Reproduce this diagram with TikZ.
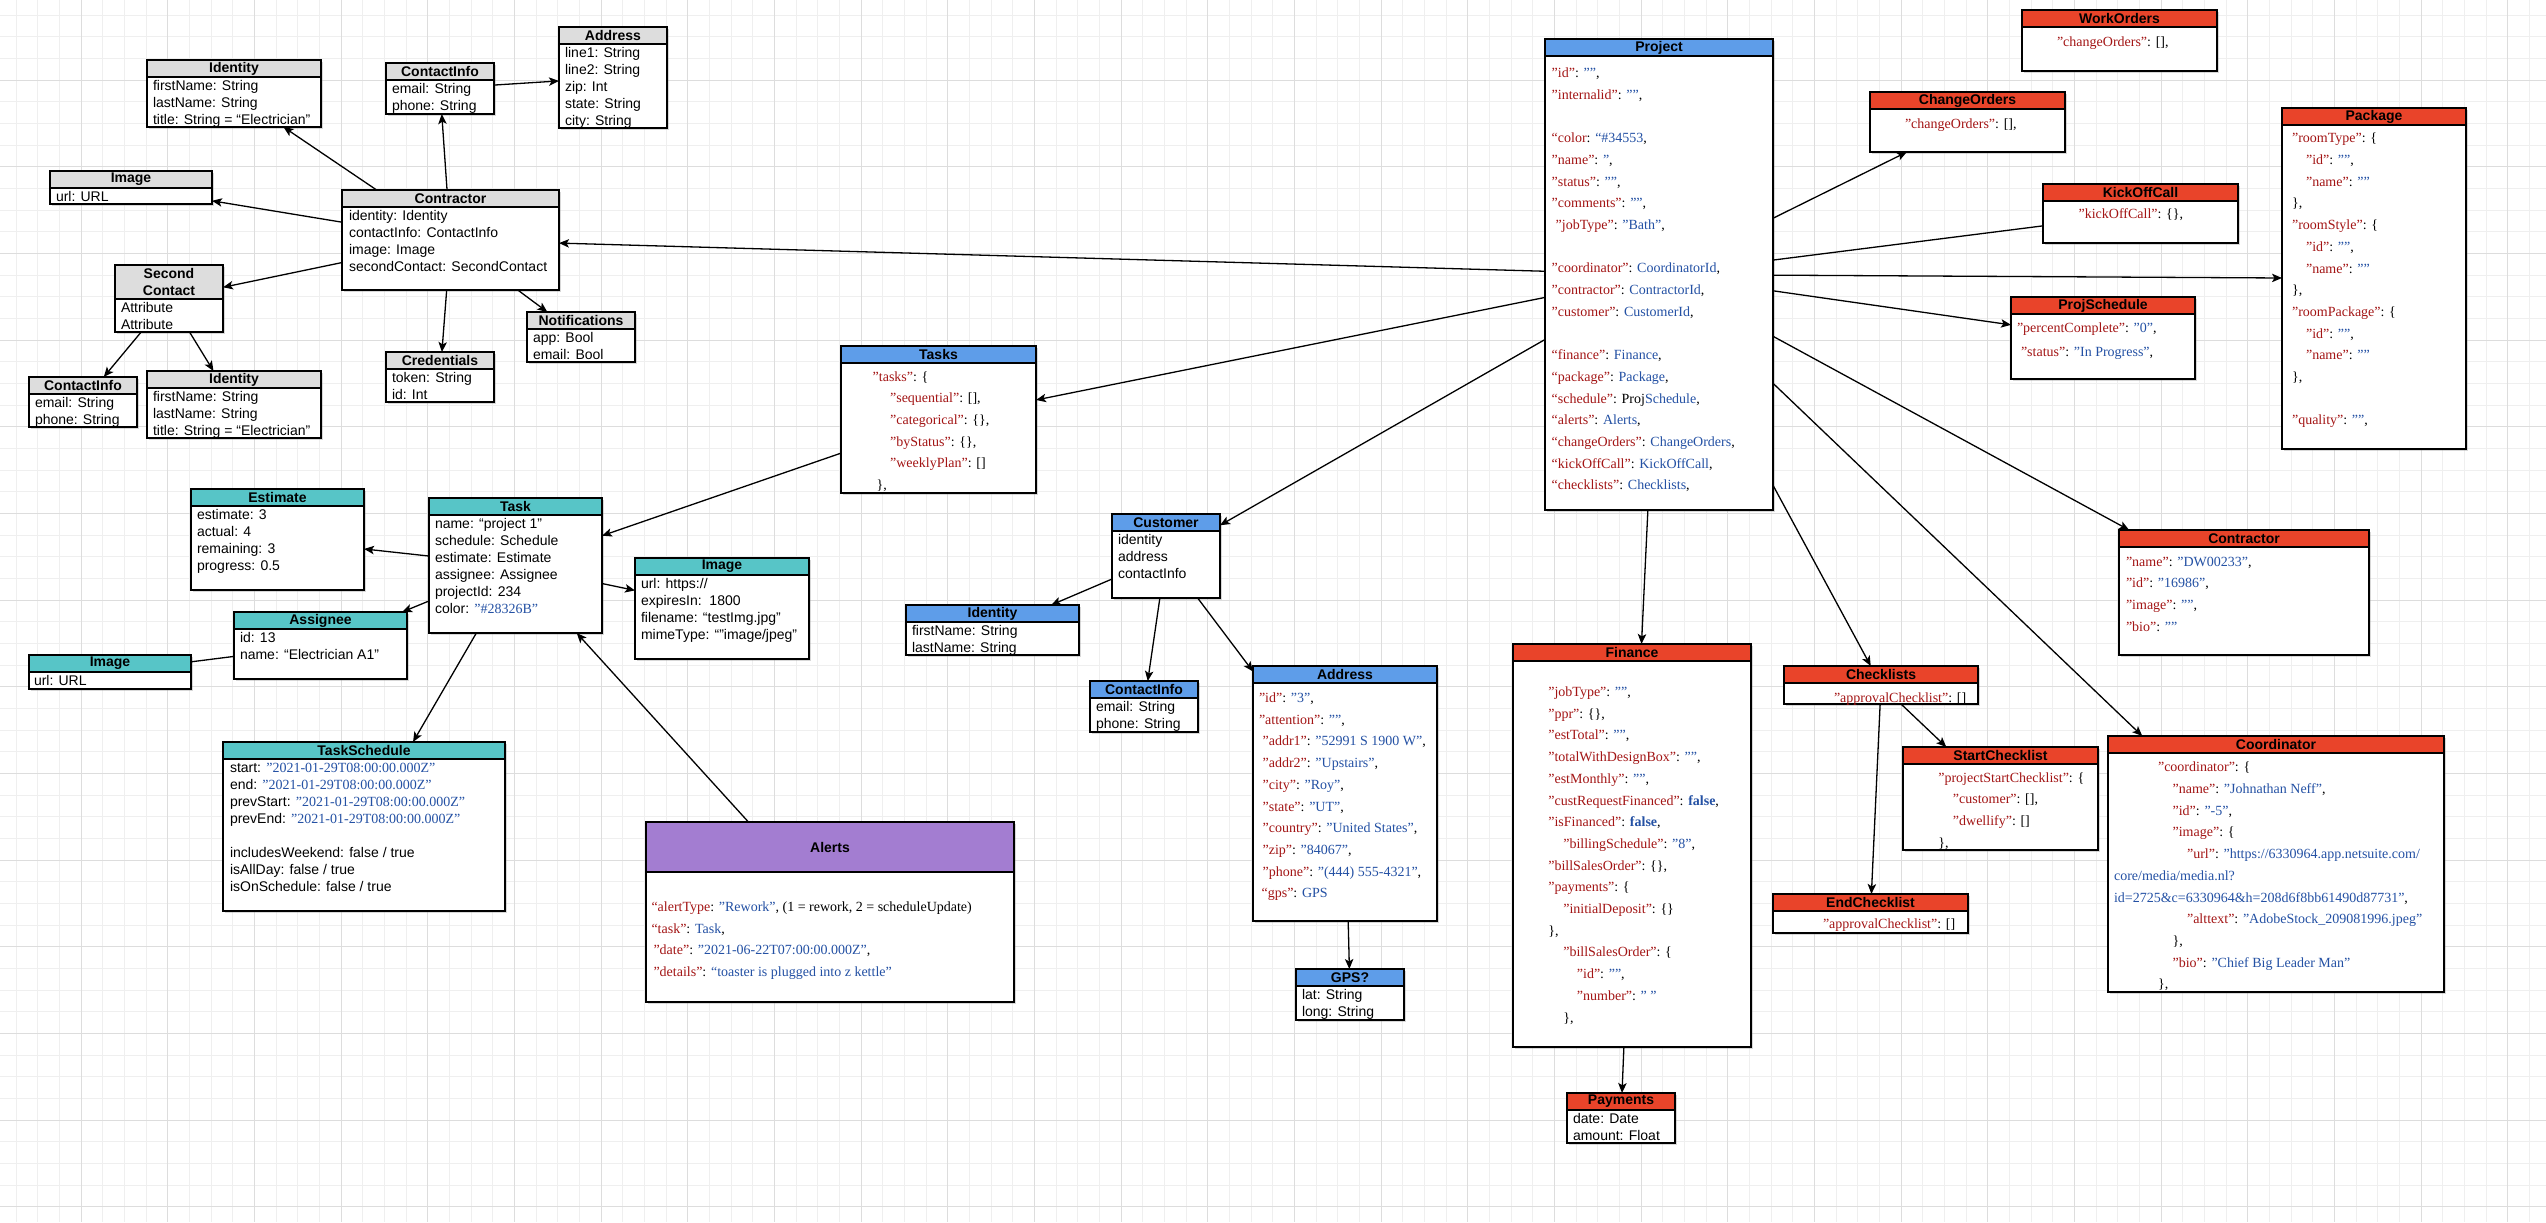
\documentclass[tikz,border=0pt]{standalone}
\usepackage{fontspec}
\setmainfont{Liberation Serif}
\setsansfont{Liberation Sans}
\usetikzlibrary{arrows.meta,fit,shadows}
\definecolor{umlgrey}{HTML}{DDDDDD}
\definecolor{umlteal}{HTML}{57C5C7}
\definecolor{umlblue}{HTML}{5E9DE9}
\definecolor{umlred}{HTML}{E9442A}
\definecolor{umlpurple}{HTML}{A37DD1}
\definecolor{jsonkey}{HTML}{A31515}
\definecolor{jsonval}{HTML}{2451A4}
\definecolor{gridlight}{HTML}{EFEFEF}
\definecolor{griddark}{HTML}{DDDDDD}
\newcommand{\attrsize}{\sffamily\fontsize{7}{8.5}\selectfont}
\newcommand{\jsonsize}{\rmfamily\fontsize{7}{10.85}\selectfont}
\newcommand{\headsize}{\sffamily\bfseries\fontsize{7}{8.5}\selectfont}
\newcommand{\jk}[1]{\textcolor{jsonkey}{#1}}
\newcommand{\jv}[1]{\textcolor{jsonval}{#1}}
\newcommand{\sv}[1]{\textcolor{jsonval}{\rmfamily #1}}
\newcommand{\as}{\rule{0pt}{6.5pt}}
\newcommand{\js}{\rule{0pt}{7pt}}
\tikzset{
 every node/.append style={inner sep=0pt,outer sep=0pt},
 frame/.style={draw=black,fill=white,line width=.8pt,drop shadow={shadow xshift=1pt,shadow yshift=-1pt,opacity=.3}},
 head/.style={draw=black,line width=.8pt},
 title/.style={font=\headsize,align=center},
 attr/.style={font=\attrsize,anchor=north west,align=left},
 json/.style={font=\jsonsize,anchor=north west,align=left},
 link/.style={-{Stealth[length=5pt,width=4.2pt,inset=1.2pt]},line width=.65pt},
 plain/.style={line width=.65pt},
 gridminor/.style={draw=gridlight,line width=.4pt},
 gridmajor/.style={draw=griddark,line width=.5pt},
}
% [header height]{name}{x1}{y1}{x2}{y2}{header colour}{title}
\newcommand{\umlbox}[8][17]{
 \node[frame,fit={(#3,#4) (#5,#6)}] (#2) {};
 \node[head,fill=#7,fit={(#3,#4) (#5,{#4+#1})}] (#2-head) {};
 \node[title] (#2-title) at (#2-head.center) {#8};
}

\begin{document}
\begin{tikzpicture}[x=.5pt,y=-.5pt]

\useasboundingbox (0,0) rectangle (2546,1222);
\fill[white] (0,0) rectangle (2546,1222);
\foreach \i in {0,...,117} \draw[gridminor] ({16+21.667*\i},0) -- ({16+21.667*\i},1222);
\foreach \j in {0,...,56} \draw[gridminor] (0,{15+21.667*\j}) -- (2546,{15+21.667*\j});
\foreach \i in {0,...,28} \draw[gridmajor] ({81+86.667*\i},0) -- ({81+86.667*\i},1222);
\foreach \j in {0,...,13} \draw[gridmajor] (0,{80+86.667*\j}) -- (2546,{80+86.667*\j});

% contractor classes
\umlbox{idA}{147}{60}{321}{127}{umlgrey}{Identity}
\umlbox{ciA}{386}{63}{494}{114}{umlgrey}{ContactInfo}
\umlbox{addrA}{559}{27}{667}{128}{umlgrey}{Address}
\umlbox{imgA}{50}{171}{212}{204}{umlgrey}{Image}
\umlbox{contractor}{342}{190}{559}{290}{umlgrey}{Contractor}
\umlbox[34]{second}{115}{265}{223}{332}{umlgrey}{Second\\Contact}
\umlbox{ciB}{29}{377}{137}{427}{umlgrey}{ContactInfo}
\umlbox{idB}{147}{371}{321}{438}{umlgrey}{Identity}
\umlbox{cred}{386}{352}{494}{402}{umlgrey}{Credentials}
\umlbox{notif}{527}{312}{635}{362}{umlgrey}{Notifications}
\node[attr] (idA-body) at (153,77) {\as firstName: String\\lastName: String\\title: String = “Electrician”};
\node[attr] (ciA-body) at (392,80) {\as email: String\\phone: String};
\node[attr] (addrA-body) at (565,44) {\as line1: String\\line2: String\\zip: Int\\state: String\\city: String};
\node[attr] (imgA-body) at (56,188) {\as url: URL};
\node[attr] (contractor-body) at (349,207) {\as identity: Identity\\contactInfo: ContactInfo\\image: Image\\secondContact: SecondContact};
\node[attr] (second-body) at (121,299) {\as Attribute\\Attribute};
\node[attr] (ciB-body) at (35,394) {\as email: String\\phone: String};
\node[attr] (idB-body) at (153,388) {\as firstName: String\\lastName: String\\title: String = “Electrician”};
\node[attr] (cred-body) at (392,369) {\as token: String\\id: Int};
\node[attr] (notif-body) at (533,329) {\as app: Bool\\email: Bool};

% task classes
\umlbox{estimate}{191}{489}{364}{590}{umlteal}{Estimate}
\umlbox{task}{429}{498}{602}{633}{umlteal}{Task}
\umlbox{imgB}{635}{558}{809}{659}{umlteal}{Image}
\umlbox{assignee}{234}{612}{407}{679}{umlteal}{Assignee}
\umlbox{imgC}{29}{655}{191}{689}{umlteal}{Image}
\umlbox{tsched}{223}{742}{505}{911}{umlteal}{TaskSchedule}
\umlbox[50]{alerts}{646}{822}{1014}{1002}{umlpurple}{Alerts}
\node[attr] (estimate-body) at (197,506) {\as estimate: 3\\actual: 4\\remaining: 3\\progress: 0.5};
\node[attr] (task-body) at (435,515) {\as name: “project 1”\\schedule: Schedule\\estimate: Estimate\\assignee: Assignee\\projectId: 234\\color: \sv{"\#28326B"}};
\node[attr] (imgB-body) at (641,575) {\as url: https://\\expiresIn:~~1800\\filename: “testImg.jpg”\\mimeType: “"image/jpeg”};
\node[attr] (assignee-body) at (240,629) {\as id: 13\\name: “Electrician A1”};
\node[attr] (imgC-body) at (34,672) {\as url: URL};
\node[attr] (tsched-body) at (230,759) {\as start: \sv{"2021-01-29T08:00:00.000Z"}\\end: \sv{"2021-01-29T08:00:00.000Z"}\\prevStart: \sv{"2021-01-29T08:00:00.000Z"}\\prevEnd: \sv{"2021-01-29T08:00:00.000Z"}\\[8.5pt]includesWeekend: false / true\\isAllDay: false / true\\isOnSchedule: false / true};
\node[json] (alerts-body) at (651.5,897.5) {\js\jk{“alertType}: \jv{"Rework"}, (1 = rework, 2 = scheduleUpdate)\\\jk{“task"}: \jv{Task},\\\hspace*{1pt}\jk{"date"}: \jv{"2021-06-22T07:00:00.000Z"},\\\hspace*{1pt}\jk{"details"}: \jv{“toaster is plugged into z kettle”}};

% customer classes
\umlbox{tasks}{841}{346}{1036}{493}{umlblue}{Tasks}
\umlbox{customer}{1112}{514}{1220}{598}{umlblue}{Customer}
\umlbox{idC}{906}{605}{1079}{655}{umlblue}{Identity}
\umlbox{ciC}{1090}{681}{1198}{732}{umlblue}{ContactInfo}
\umlbox{addrB}{1253}{666}{1437}{921}{umlblue}{Address}
\umlbox{gps}{1296}{969}{1404}{1020}{umlblue}{GPS?}
\node[json] (tasks-body) at (872.7,367) {\js\jk{"tasks"}: \{\\\hspace*{8.7pt}\jk{"sequential"}: [],\\\hspace*{8.7pt}\jk{"categorical"}: \{\},\\\hspace*{8.7pt}\jk{"byStatus"}: \{\},\\\hspace*{8.7pt}\jk{"weeklyPlan"}: []\\\hspace*{2pt}\},};
\node[attr] (customer-body) at (1118,531) {\as identity\\address\\contactInfo};
\node[attr] (idC-body) at (912,622) {\as firstName: String\\lastName: String};
\node[attr] (ciC-body) at (1096,698) {\as email: String\\phone: String};
\node[json] (addrB-body) at (1259,688.5) {\js\jk{"id"}: \jv{"3"},\\\jk{"attention"}: \jv{""},\\\hspace*{1.8pt}\jk{"addr1"}: \jv{"52991 S 1900 W"},\\\hspace*{1.8pt}\jk{"addr2"}: \jv{"Upstairs"},\\\hspace*{1.8pt}\jk{"city"}: \jv{"Roy"},\\\hspace*{1.8pt}\jk{"state"}: \jv{"UT"},\\\hspace*{1.8pt}\jk{"country"}: \jv{"United States"},\\\hspace*{1.8pt}\jk{"zip"}: \jv{"84067"},\\\hspace*{1.8pt}\jk{"phone"}: \jv{"(444) 555-4321"},\\\hspace*{1.3pt}\jk{“gps”}: \jv{GPS}};
\node[attr] (gps-body) at (1302,986) {\as lat: String\\long: String};

% project
\umlbox{project}{1545}{39}{1773}{510}{umlblue}{Project}
\node[json] (project-body) at (1551.7,63.5) {\js\jk{"id"}: \jv{""},\\\jk{"internalid"}: \jv{""},\\[10.85pt]\jk{“color}: \jv{“\#34553},\\\jk{"name"}: \jv{"},\\\jk{"status"}: \jv{""},\\\jk{"comments"}: \jv{""},\\\hspace*{2pt}\jk{"jobType"}: \jv{"Bath"},\\[10.85pt]\jk{"coordinator"}: \jv{CoordinatorId},\\\jk{"contractor"}: \jv{ContractorId},\\\jk{"customer"}: \jv{CustomerId},\\[10.85pt]\jk{“finance”}: \jv{Finance},\\\jk{“package”}: \jv{Package},\\\jk{“schedule”}: Proj\jv{Schedule},\\\jk{“alerts”}: \jv{Alerts},\\\jk{“changeOrders”}: \jv{ChangeOrders},\\\jk{“kickOffCall”}: \jv{KickOffCall},\\\jk{“checklists”}: \jv{Checklists},};

% project parts
\umlbox{workorders}{2022}{10}{2217}{71}{umlred}{WorkOrders}
\umlbox{changeorders}{1870}{92}{2065}{152}{umlred}{ChangeOrders}
\umlbox{kickoff}{2043}{184}{2238}{243}{umlred}{KickOffCall}
\umlbox{projsched}{2011}{297}{2195}{379}{umlred}{ProjSchedule}
\umlbox{package}{2282}{108}{2466}{449}{umlred}{Package}
\umlbox{contractorB}{2119}{530}{2369}{655}{umlred}{Contractor}
\umlbox{coordinator}{2108}{736}{2444}{992}{umlred}{Coordinator}
\umlbox{finance}{1513}{644}{1751}{1047}{umlred}{Finance}
\umlbox{payments}{1567}{1093}{1675}{1143}{umlred}{Payments}
\umlbox{checklists}{1784}{666}{1978}{704}{umlred}{Checklists}
\umlbox{startcl}{1903}{747}{2098}{850}{umlred}{StartChecklist}
\umlbox{endcl}{1773}{894}{1968}{933}{umlred}{EndChecklist}
\node[json] (workorders-body) at (2057,32) {\js\jk{"changeOrders"}: [],};
\node[json] (changeorders-body) at (1905,114.5) {\js\jk{"changeOrders"}: [],};
\node[json] (kickoff-body) at (2078.6,204.5) {\js\jk{"kickOffCall"}: \{\},};
\node[json] (projsched-body) at (2017,318.5) {\js\jk{"percentComplete"}: \jv{"0"},\\[1pt]\hspace*{2pt}\jk{"status"}: \jv{"In Progress"},};
\node[json] (package-body) at (2292,128.8) {\js\jk{"roomType"}: \{\\\hspace*{7pt}\jk{"id"}: \jv{""},\\\hspace*{7pt}\jk{"name"}: \jv{""}\\\},\\\jk{"roomStyle"}: \{\\\hspace*{7pt}\jk{"id"}: \jv{""},\\\hspace*{7pt}\jk{"name"}: \jv{""}\\\},\\\jk{"roomPackage"}: \{\\\hspace*{7pt}\jk{"id"}: \jv{""},\\\hspace*{7pt}\jk{"name"}: \jv{""}\\\},\\[10.85pt]\jk{"quality"}: \jv{""},};
\node[json] (contractorB-body) at (2126,552) {\js\jk{"name"}: \jv{"DW00233"},\\\jk{"id"}: \jv{"16986"},\\\jk{"image"}: \jv{""},\\\jk{"bio"}: \jv{""}};
\node[json] (coordinator-body) at (2114,757.8) {\js\hspace*{22pt}\jk{"coordinator"}: \{\\\hspace*{29.3pt}\jk{"name"}: \jv{"Johnathan Neff"},\\\hspace*{29.3pt}\jk{"id"}: \jv{"-5"},\\\hspace*{29.3pt}\jk{"image"}: \{\\\hspace*{36.5pt}\jk{"url"}: \jv{"https://6330964.app.netsuite.com/}\\\jv{core/media/media.nl?}\\\jv{id=2725\&c=6330964\&h=208d6f8bb61490d87731"},\\\hspace*{36.5pt}\jk{"alttext"}: \jv{"AdobeStock\_209081996.jpeg"}\\\hspace*{29.3pt}\},\\\hspace*{29.3pt}\jk{"bio"}: \jv{"Chief Big Leader Man"}\\\hspace*{22pt}\},};
\node[json] (finance-body) at (1548.3,682.5) {\js\jk{"jobType"}: \jv{""},\\\jk{"ppr"}: \{\},\\\jk{"estTotal"}: \jv{""},\\\jk{"totalWithDesignBox"}: \jv{""},\\\jk{"estMonthly"}: \jv{""},\\\jk{"custRequestFinanced"}: \jv{\textbf{false}},\\\jk{"isFinanced"}: \jv{\textbf{false}},\\\hspace*{7.5pt}\jk{"billingSchedule"}: \jv{"8"},\\\jk{"billSalesOrder"}: \{\},\\\jk{"payments"}: \{\\\hspace*{7.5pt}\jk{"initialDeposit"}: \{\}\\\},\\\hspace*{7.5pt}\jk{"billSalesOrder"}: \{\\\hspace*{14.3pt}\jk{"id"}: \jv{""},\\\hspace*{14.3pt}\jk{"number"}: \jv{" "}\\\hspace*{7.5pt}\},};
\node[attr] (payments-body) at (1573,1110) {\as date: Date\\amount: Float};
\node[json] (checklists-body) at (1834,688) {\js\jk{"approvalChecklist"}: []};
\node[json] (startcl-body) at (1938.3,768) {\js\jk{"projectStartChecklist"}: \{\\\hspace*{7.3pt}\jk{"customer"}: [],\\\hspace*{7.3pt}\jk{"dwellify"}: []\\\},};
\node[json] (endcl-body) at (1823,914.5) {\js\jk{"approvalChecklist"}: []};

% connectors
\draw[link] (contractor) -- (idA);
\draw[link] (contractor) -- (ciA);
\draw[link] (ciA) -- (addrA);
\draw[link] (contractor) -- (imgA);
\draw[link] (contractor) -- (second);
\draw[link] (second) -- (ciB);
\draw[link] (second) -- (idB);
\draw[link] (contractor) -- (cred);
\draw[link] (contractor) -- (notif);
\draw[link] (project) -- (contractor);
\draw[link] (project) -- (tasks);
\draw[link] (project) -- (customer);
\draw[link] (tasks) -- (task);
\draw[link] (task) -- (estimate);
\draw[link] (task) -- (imgB);
\draw[link] (task) -- (assignee);
\draw[plain] (assignee) -- (imgC);
\draw[link] (task) -- (tsched);
\draw[link] (alerts) -- (task);
\draw[link] (customer) -- (idC);
\draw[link] (customer) -- (ciC);
\draw[link] (customer) -- (addrB);
\draw[link] (addrB) -- (gps);
\draw[link] (project) -- (changeorders);
\draw[plain] (project) -- (kickoff);
\draw[link] (project) -- (package);
\draw[link] (project) -- (projsched);
\draw[link] (project) -- (contractorB);
\draw[link] (project) -- (coordinator);
\draw[link] (project) -- (checklists);
\draw[link] (project) -- (finance);
\draw[link] (checklists) -- (startcl);
\draw[link] (checklists) -- (endcl);
\draw[link] (finance) -- (payments);

\end{tikzpicture}
\end{document}
